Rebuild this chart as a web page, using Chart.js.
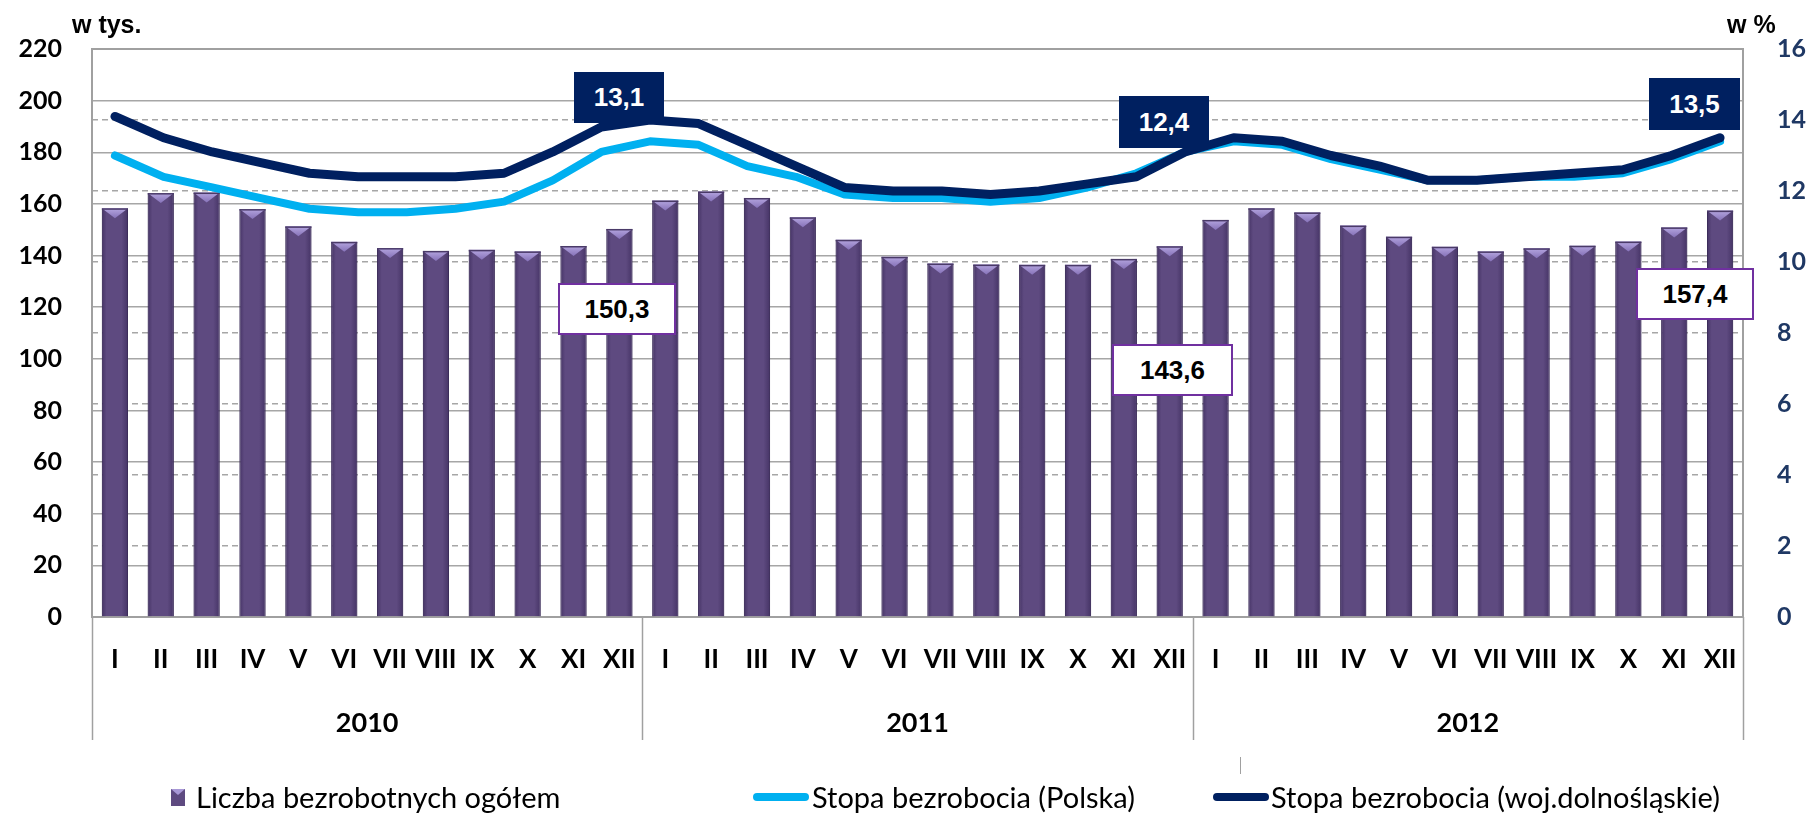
<!DOCTYPE html>
<html><head><meta charset="utf-8">
<script src="https://cdn.jsdelivr.net/npm/chart.js@4.4.1/dist/chart.umd.min.js"></script>
<style>
html,body{margin:0;padding:0;background:#fff;}
#wrap{position:relative;width:1812px;height:818px;overflow:hidden;}
#c{position:absolute;left:0;top:0;}
.ann{position:absolute;font-family:'Liberation Sans',Arial,sans-serif;font-weight:bold;font-size:26px;display:flex;align-items:center;justify-content:center;box-sizing:border-box;}
.navy{background:#002060;color:#fff;}
.white{background:#fff;color:#000;border:2px solid #7030A0;}
.ttl{position:absolute;font-family:'Liberation Sans',Arial,sans-serif;font-weight:bold;font-size:25px;color:#000;line-height:1;}
.leg{position:absolute;font-family:Lato,'Open Sans',sans-serif;font-size:29px;color:#000;line-height:1;white-space:nowrap;}
.legline{position:absolute;height:8px;border-radius:4px;}
</style>
</head><body>
<div id="wrap">
<canvas id="c" width="1812" height="818"></canvas>
<div class="ttl" style="left:72px;top:12px;">w tys.</div>
<div class="ttl" style="left:1727px;top:12px;">w %</div>
<div id="anns"></div>
<div id="legend"></div>
</div>
<script>
// ---- data ----
const months = ['I','II','III','IV','V','VI','VII','VIII','IX','X','XI','XII'];
const years = ['2010','2011','2012'];
// Liczba bezrobotnych ogółem (w tys.), I 2010 – XII 2012
const bezrobotni = [
  158.3,164.2,164.4,158.0,151.3,145.3,142.9,141.8,142.2,141.6,143.7,150.3,
  161.3,164.8,162.3,154.8,146.1,139.5,136.9,136.5,136.4,136.4,138.7,143.6,
  153.8,158.3,156.7,151.6,147.3,143.4,141.6,142.8,143.8,145.4,150.9,157.4
];
// Stopa bezrobocia (w %) – 34 points drawn across the whole axis
const stopaPolska = [
  13.0,12.4,12.1,11.8,11.5,11.4,11.4,11.5,11.7,12.3,
  13.1,13.4,13.3,12.7,12.4,11.9,11.8,11.8,11.7,11.8,12.1,12.5,
  13.1,13.4,13.3,12.9,12.6,12.3,12.3,12.4,12.4,12.5,12.9,13.4
];
const stopaDolnoslaskie = [
  14.1,13.5,13.1,12.8,12.5,12.4,12.4,12.4,12.5,13.1,
  13.8,14.0,13.9,13.3,12.7,12.1,12.0,12.0,11.9,12.0,12.2,12.4,
  13.1,13.5,13.4,13.0,12.7,12.3,12.3,12.4,12.5,12.6,13.0,13.5
];
const leftAxis = {min:0, max:220, step:20};
const rightAxis = {min:0, max:16, step:2};
const seriesNames = ['Liczba bezrobotnych ogółem','Stopa bezrobocia (Polska)','Stopa bezrobocia (woj.dolnośląskie)'];
const annotations = [
  {text:'13,1', cls:'navy',  left:574,  top:72,  w:90,  h:51},
  {text:'12,4', cls:'navy',  left:1119, top:96,  w:90,  h:52},
  {text:'13,5', cls:'navy',  left:1649, top:78,  w:91,  h:52},
  {text:'150,3',cls:'white', left:558,  top:283, w:118, h:52},
  {text:'143,6',cls:'white', left:1112, top:344, w:121, h:52},
  {text:'157,4',cls:'white', left:1636, top:268, w:118, h:52}
];

// ---- derived ----
const labels = years.flatMap(() => months);
const nBars = labels.length, nLine = stopaPolska.length;
const linePad = (nLine - 1) / (2 * (nBars - 1));
const toXY = arr => arr.map((v, i) => ({x: i, y: v}));

const COL_BAR = '#5E4A80', COL_PL = '#00B0F0', COL_DS = '#002060';

const decor = {
  id: 'decor',
  beforeDatasetsDraw(chart) {
    const {ctx, chartArea: a} = chart;
    ctx.save();
    ctx.strokeStyle = '#A0A0A0'; ctx.lineWidth = 2;
    ctx.strokeRect(a.left, a.top, a.right - a.left, a.bottom - a.top);
    ctx.restore();
  },
  afterDatasetDraw(chart, args) {
    if (args.index !== 0) return;
    const {ctx} = chart;
    const meta = chart.getDatasetMeta(0);
    ctx.save();
    meta.data.forEach(el => {
      const w = el.width, x0 = el.x - w / 2, y = el.y;
      const g = ctx.createLinearGradient(x0, 0, x0 + w, 0);
      g.addColorStop(0, 'rgba(40,25,70,0.45)');
      g.addColorStop(0.18, 'rgba(40,25,70,0)');
      g.addColorStop(0.75, 'rgba(40,25,70,0)');
      g.addColorStop(1, 'rgba(40,25,70,0.45)');
      ctx.fillStyle = g;
      ctx.fillRect(x0, y, w, el.base - y);
      const tg = ctx.createLinearGradient(0, y, 0, y + 10);
      tg.addColorStop(0, '#B5A6E0');
      tg.addColorStop(1, '#8672B8');
      ctx.fillStyle = tg;
      ctx.beginPath();
      ctx.moveTo(x0, y); ctx.lineTo(x0 + w, y); ctx.lineTo(el.x, y + 10); ctx.closePath();
      ctx.fill();
      ctx.fillStyle = '#4A3A68';
      ctx.fillRect(x0, y, w, 1.5);
    });
    ctx.restore();
  },
  afterDraw(chart) {
    const {ctx, chartArea: a} = chart;
    const xs = chart.scales.x;
    ctx.save();
    ctx.strokeStyle = '#A0A0A0'; ctx.lineWidth = 1.5;
    const half = (xs.getPixelForValue(1) - xs.getPixelForValue(0)) / 2;
    for (let g = 0; g <= years.length; g++) {
      const px = g === 0 ? a.left : (g === years.length ? a.right : xs.getPixelForValue(g * 12) - half);
      ctx.beginPath(); ctx.moveTo(Math.round(px) + 0.5, a.bottom); ctx.lineTo(Math.round(px) + 0.5, 740); ctx.stroke();
    }
    ctx.fillStyle = '#000';
    ctx.font = 'bold 27px Lato';
    ctx.textAlign = 'center'; ctx.textBaseline = 'middle';
    years.forEach((yr, g) => {
      const c = (xs.getPixelForValue(g * 12) + xs.getPixelForValue(g * 12 + 11)) / 2;
      ctx.fillText(yr, c, 723);
    });
    ctx.restore();
  }
};

new Chart(document.getElementById('c'), {
  type: 'bar',
  data: {
    labels,
    datasets: [
      {type:'bar', label: seriesNames[0], data: bezrobotni, xAxisID:'x', yAxisID:'yL',
       backgroundColor: COL_BAR, borderColor:'#4A3A68', borderWidth:{left:1,right:1,top:0,bottom:0},
       barPercentage:0.57, categoryPercentage:1, grouped:false, order:3},
      {type:'line', label: seriesNames[1], data: toXY(stopaPolska), xAxisID:'xl', yAxisID:'yR',
       borderColor: COL_PL, borderWidth:8, pointRadius:0, tension:0, fill:false,
       borderJoinStyle:'round', borderCapStyle:'round', order:2},
      {type:'line', label: seriesNames[2], data: toXY(stopaDolnoslaskie), xAxisID:'xl', yAxisID:'yR',
       borderColor: COL_DS, borderWidth:9, pointRadius:0, tension:0, fill:false,
       borderJoinStyle:'round', borderCapStyle:'round', order:1}
    ]
  },
  options: {
    responsive:false, animation:false, devicePixelRatio:1,
    layout:{padding:{top:48,left:0,right:0,bottom:0}},
    plugins:{legend:{display:false}, tooltip:{enabled:false}},
    scales:{
      x:{type:'category', position:'bottom', offset:true,
         grid:{display:false, drawTicks:false}, border:{display:false},
         ticks:{autoSkip:false, maxRotation:0, minRotation:0, padding:27, color:'#000',
                font:{family:'Lato', size:26, weight:'bold'}},
         afterFit(s){ s.height = 201; }},
      xl:{type:'linear', display:false, position:'bottom', offset:false, bounds:'data', grace:0,
          grid:{offset:false}, min:-linePad, max:(nLine - 1) + linePad,
          afterDataLimits(s){ s.min = -linePad; s.max = (nLine - 1) + linePad; }},
      yL:{type:'linear', position:'left', min:leftAxis.min, max:leftAxis.max,
          ticks:{stepSize:leftAxis.step, padding:30, color:'#000', font:{family:'Lato', size:25, weight:'bold'}},
          grid:{color:'#A6A6A6', lineWidth:1.5, drawTicks:false}, border:{display:false},
          afterFit(s){ s.width = 92; }},
      yR:{type:'linear', position:'right', min:rightAxis.min, max:rightAxis.max,
          ticks:{stepSize:rightAxis.step, padding:34, color:'#1F3864', font:{family:'Lato', size:25, weight:'bold'}},
          grid:{color:'#A6A6A6', lineWidth:1.5, drawTicks:false, drawOnChartArea:true},
          border:{display:false, dash:[6,4]},
          afterFit(s){ s.width = 69; }}
    }
  },
  plugins:[decor]
});

const annBox = document.getElementById('anns');
annotations.forEach(a => {
  const d = document.createElement('div');
  d.className = 'ann ' + a.cls;
  d.style.cssText = `left:${a.left}px;top:${a.top}px;width:${a.w}px;height:${a.h}px;`;
  d.textContent = a.text;
  annBox.appendChild(d);
});

const legend = document.getElementById('legend');
const legItems = [
  {kind:'box', color:COL_BAR, mark:171, text:196},
  {kind:'line', color:COL_PL, mark:753, text:812},
  {kind:'line', color:COL_DS, mark:1213, text:1271}
];
legItems.forEach((it, i) => {
  const m = document.createElement('div');
  if (it.kind === 'box') {
    m.style.cssText = `position:absolute;left:${it.mark}px;top:789px;width:14px;height:17px;background:${it.color};`;
    const t = document.createElement('div');
    t.style.cssText = 'position:absolute;left:0;top:0;width:0;height:0;border-left:7px solid transparent;border-right:7px solid transparent;border-top:6px solid #A898D6;';
    m.appendChild(t);
  } else {
    m.className = 'legline';
    m.style.cssText += `left:${it.mark}px;top:793px;width:56px;background:${it.color};`;
  }
  legend.appendChild(m);
  const t = document.createElement('div');
  t.className = 'leg';
  t.style.left = it.text + 'px';
  t.style.top = '782px';
  t.textContent = seriesNames[i];
  legend.appendChild(t);
});
const tick = document.createElement('div');
tick.style.cssText = 'position:absolute;left:1240px;top:757px;width:1px;height:17px;background:#A0A0A0;';
legend.appendChild(tick);
</script>
</body></html>
